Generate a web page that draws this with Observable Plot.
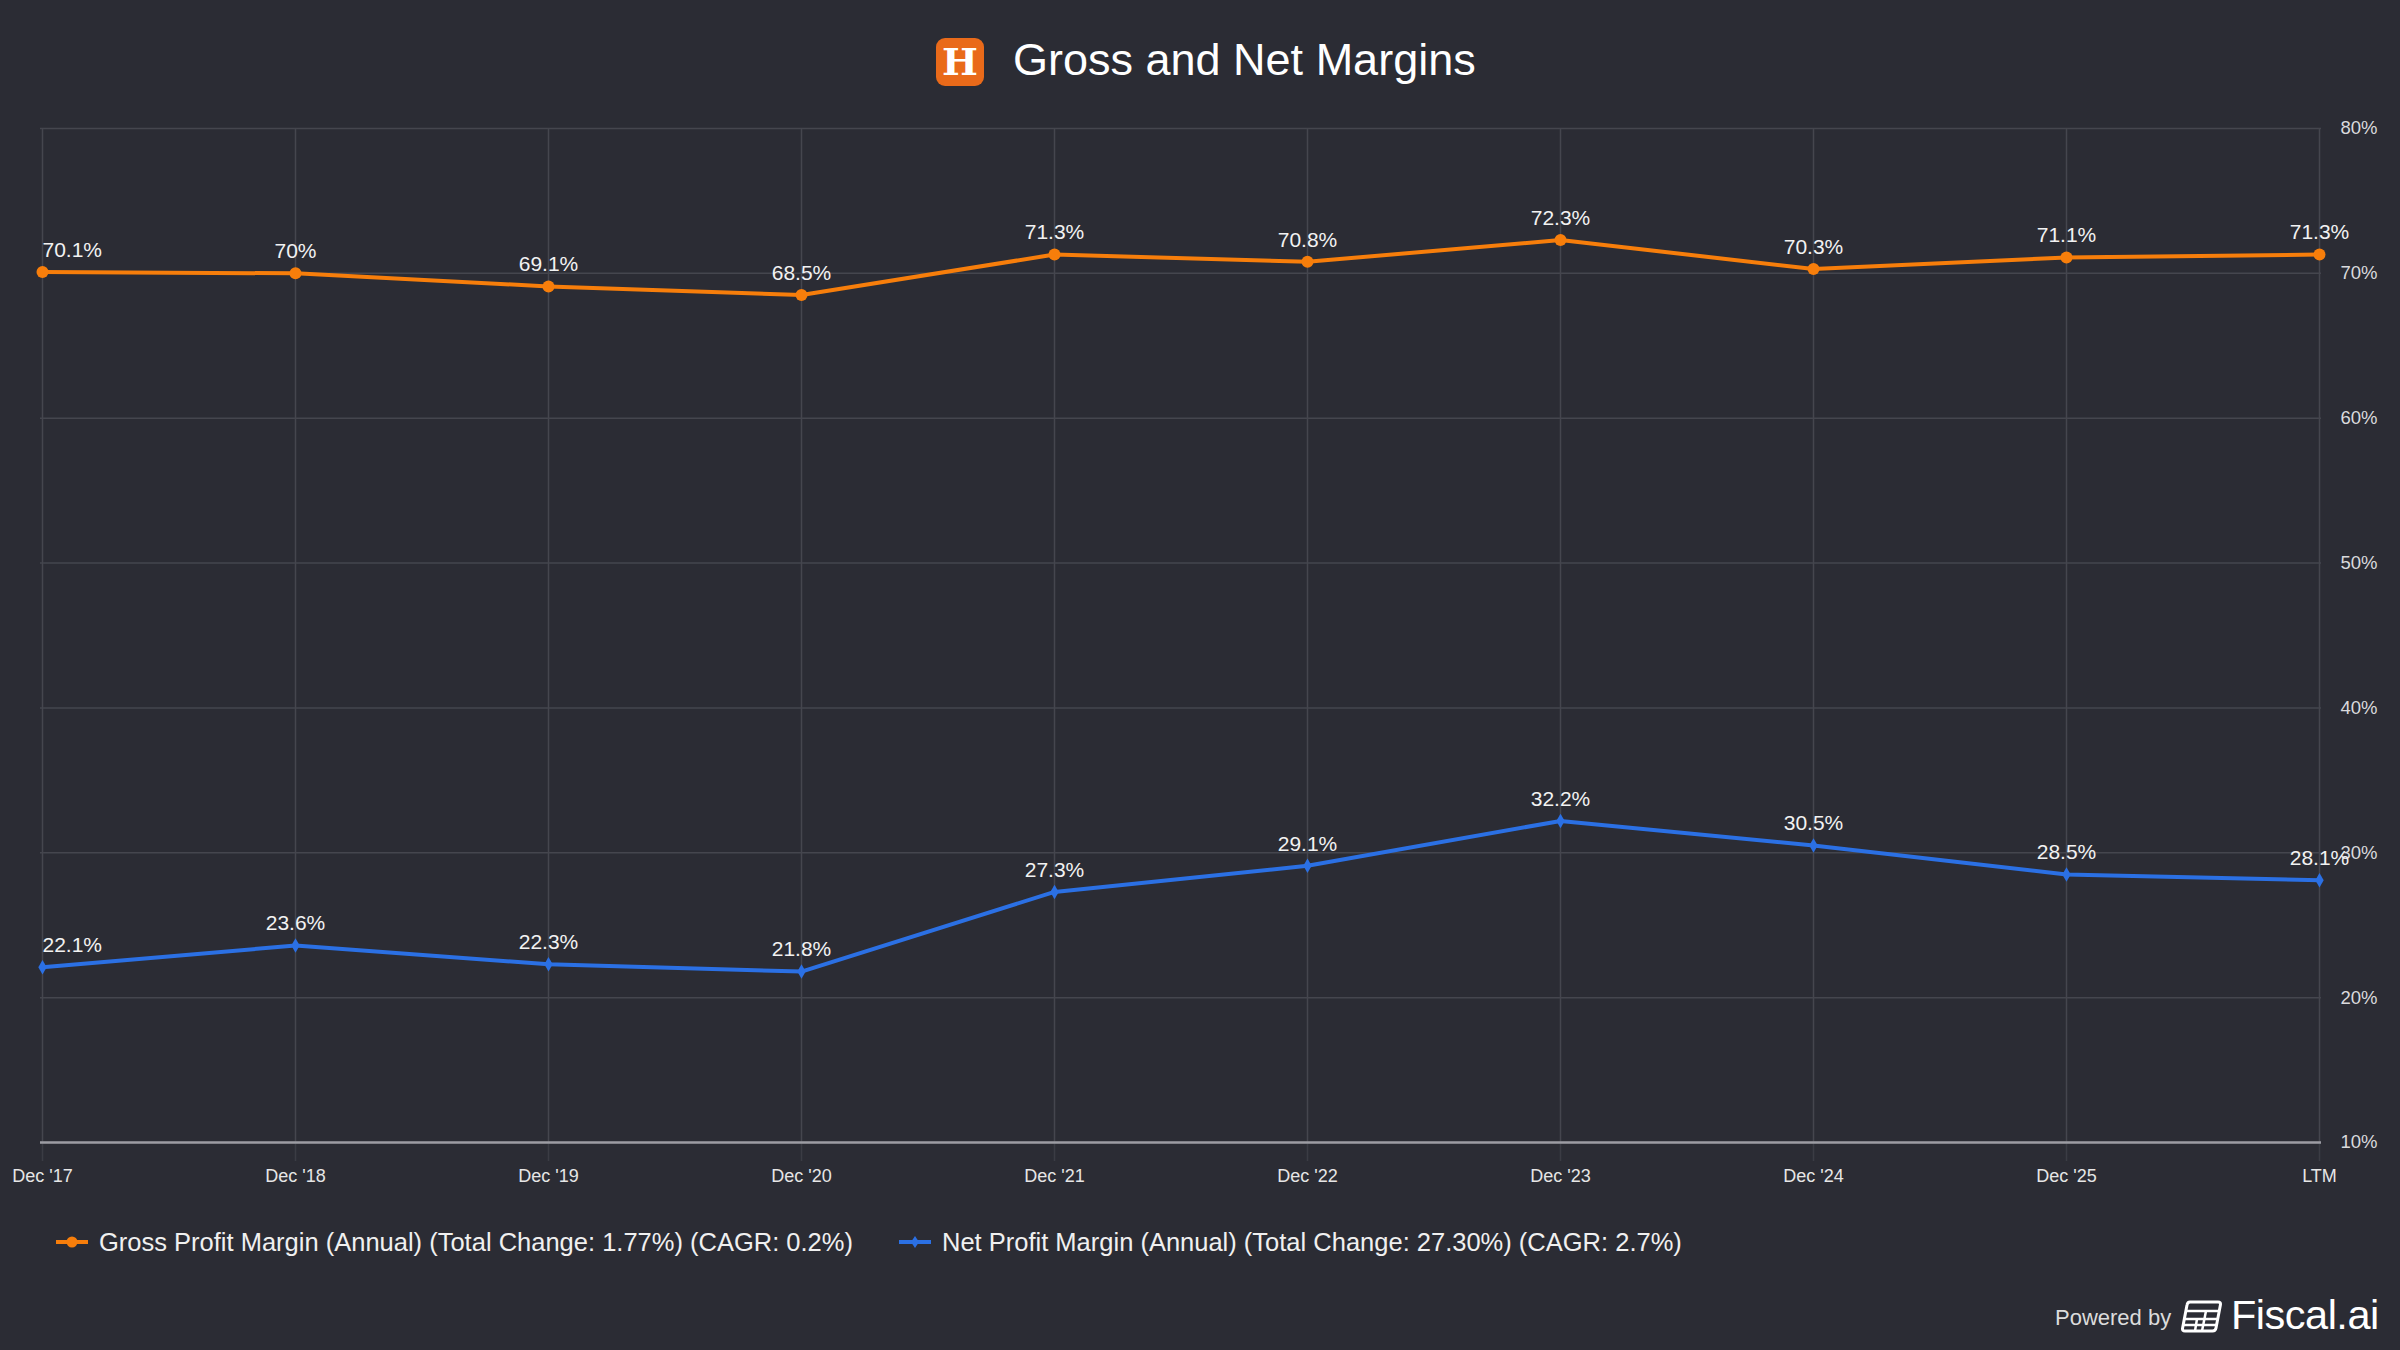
<!DOCTYPE html>
<html>
<head>
<meta charset="utf-8">
<script src="https://cdn.jsdelivr.net/npm/d3@7"></script>
<script src="https://cdn.jsdelivr.net/npm/@observablehq/plot@0.6"></script>
<style>
  html, body { margin: 0; padding: 0; background: #2b2c34; }
  #wrap { position: relative; width: 2400px; height: 1350px; background: #2b2c34; overflow: hidden;
          font-family: "Liberation Sans", Arial, Helvetica, sans-serif; color: #f2f2f2; }
  #logo { position: absolute; left: 936px; top: 38px; width: 48px; height: 48px; border-radius: 9px;
          background: #e96a1a; color: #fff; font-family: "DejaVu Serif", "Liberation Serif", serif;
          font-weight: bold; font-size: 38px; line-height: 48px; text-align: center; }
  #title { position: absolute; left: 1013px; top: 29px; font-size: 45px; line-height: 62px; color: #ffffff; white-space: nowrap; }
  #chart { position: absolute; left: 0; top: 100px; }
  #legend { position: absolute; left: 0; top: 1226px; height: 32px; font-size: 25.5px; color: #f0f0f0; white-space: nowrap; }
  .leg { position: absolute; top: 0; display: flex; align-items: center; height: 32px; }
  .leg svg { margin-right: 11px; }
  #powered { position: absolute; left: 2055px; top: 1291px; height: 50px; white-space: nowrap; }
  #powered .pb { position: absolute; left: 0; top: 14px; font-size: 22px; color: #dcdcdc; }
  #powered svg { position: absolute; left: 126px; top: 8px; }
  #powered .fa { position: absolute; left: 176px; top: 0px; font-size: 41.5px; color: #ffffff; font-weight: 500; letter-spacing: -0.5px; }
</style>
</head>
<body>
<div id="wrap">
  <div id="logo">H</div>
  <div id="title">Gross and Net Margins</div>
  <div id="chart"></div>
  <div id="legend"></div>
  <div id="powered">
    <span class="pb">Powered by</span>
    <svg width="42" height="34" viewBox="0 0 42 34">
      <path d="M9 3 H37 Q40 3 39.4 6 L35 29 Q34.5 32 31.5 32 H4 Q1 32 1.6 29 L6 6 Q6.5 3 9 3 Z" fill="none" stroke="#fff" stroke-width="3"/>
      <path d="M5 12 H38 M3.5 20 H36.5 M3 26 H35 M16 20 L14 32 M25 12 L21 32" fill="none" stroke="#fff" stroke-width="2.5"/>
    </svg>
    <span class="fa">Fiscal.ai</span>
  </div>
</div>
<script>
const categories = ["Dec '17", "Dec '18", "Dec '19", "Dec '20", "Dec '21", "Dec '22", "Dec '23", "Dec '24", "Dec '25", "LTM"];
const grossValues = [70.1, 70, 69.1, 68.5, 71.3, 70.8, 72.3, 70.3, 71.1, 71.3];
const netValues = [22.1, 23.6, 22.3, 21.8, 27.3, 29.1, 32.2, 30.5, 28.5, 28.1];
const yTicks = [10, 20, 30, 40, 50, 60, 70, 80];
const seriesNames = [
  "Gross Profit Margin (Annual) (Total Change: 1.77%) (CAGR: 0.2%)",
  "Net Profit Margin (Annual) (Total Change: 27.30%) (CAGR: 2.7%)"
];
const orange = "#f77e0b";
const blue = "#2b70e4";

const gross = categories.map((c, i) => ({cat: c, v: grossValues[i], i}));
const net = categories.map((c, i) => ({cat: c, v: netValues[i], i}));
const fmt = d => `${d}%`;
const labelOpts = (anchor) => ({x: "cat", y: "v", text: d => fmt(d.v), fill: "#f2f2f2", fontSize: 21, dy: -22, textAnchor: anchor});

const chart = Plot.plot({
  width: 2400,
  height: 1100,
  marginTop: 28,
  marginBottom: 58,
  marginLeft: 40,
  marginRight: 79,
  x: {type: "point", domain: categories, padding: 0},
  y: {domain: [10, 80]},
  style: {background: "transparent", fontFamily: "'Liberation Sans', Arial, Helvetica, sans-serif", color: "#dcdcdc", overflow: "visible"},
  marks: [
    Plot.gridY(yTicks, {stroke: "#45464e", strokeOpacity: 1, strokeWidth: 1.5}),
    Plot.gridX(categories, {stroke: "#45464e", strokeOpacity: 1, strokeWidth: 1.5}),
    Plot.axisX({anchor: "bottom", tickSize: 19, tickPadding: 8, stroke: "#3b3c44", strokeWidth: 1.5, fill: "#e6e6e6", fontSize: 18, label: null}),
    Plot.axisY(yTicks, {anchor: "right", tickSize: 0, tickPadding: 19, tickFormat: fmt, fill: "#dadadd", fontSize: 18.5, label: null}),
    Plot.ruleY([10], {stroke: "#9c9ca3", strokeWidth: 2.5}),
    Plot.line(gross, {x: "cat", y: "v", stroke: orange, strokeWidth: 4}),
    Plot.line(net, {x: "cat", y: "v", stroke: blue, strokeWidth: 4}),
    Plot.dot(gross, {x: "cat", y: "v", fill: orange, r: 6, symbol: "circle"}),
    Plot.dot(net, {x: "cat", y: "v", fill: blue, r: 4.4, symbol: "diamond"}),
    Plot.text(gross.filter(d => d.i === 0), labelOpts("start")),
    Plot.text(gross.filter(d => d.i > 0), labelOpts("middle")),
    Plot.text(net.filter(d => d.i === 0), labelOpts("start")),
    Plot.text(net.filter(d => d.i > 0), labelOpts("middle"))
  ]
});
document.getElementById("chart").appendChild(chart);

// legend
const legend = document.getElementById("legend");
const legendItems = [
  {name: seriesNames[0], color: orange, shape: "circle", left: 56},
  {name: seriesNames[1], color: blue, shape: "diamond", left: 899}
];
for (const it of legendItems) {
  const div = document.createElement("div");
  div.className = "leg";
  div.style.left = it.left + "px";
  const marker = it.shape === "circle"
    ? `<circle cx="16" cy="16" r="5.5" fill="${it.color}"/>`
    : `<path d="M16 10 L20 16 L16 22 L12 16 Z" fill="${it.color}"/>`;
  div.innerHTML = `<svg width="32" height="32"><line x1="0" x2="32" y1="16" y2="16" stroke="${it.color}" stroke-width="4"/>${marker}</svg><span>${it.name}</span>`;
  legend.appendChild(div);
}
</script>
</body>
</html>
